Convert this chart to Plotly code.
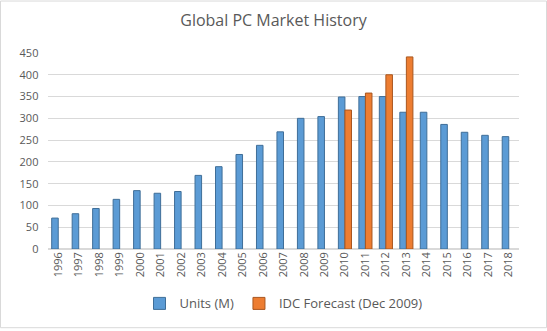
import plotly.graph_objects as go

years = [str(y) for y in range(1996, 2019)]
units = [71, 81, 93, 114, 134, 128, 132, 169, 189, 217, 238, 269, 300, 304,
         349, 350, 350, 314, 314, 286, 268, 261, 258]
forecast_years = ["2010", "2011", "2012", "2013"]
forecast = [319, 358, 400, 441]
forecast_full = [forecast[forecast_years.index(y)] if y in forecast_years else None for y in years]

W, H = 547, 331
L, R, T, B = 48, 28, 53, 80
pw = W - L - R
ph = H - T - B

fig = go.Figure()
fig.add_trace(go.Bar(x=years, y=units, name="Units (M)",
                     marker=dict(color="#5B9BD5", line=dict(color="#3F6E98", width=1))))
fig.add_trace(go.Bar(x=years, y=forecast_full, name="IDC Forecast (Dec 2009)",
                     marker=dict(color="#ED7D31", line=dict(color="#A9561F", width=1))))

fig.update_layout(
    width=W, height=H,
    margin=dict(l=L, r=R, t=T, b=B),
    paper_bgcolor="white", plot_bgcolor="white",
    barmode="group", bargap=0.36, bargroupgap=0,
    font=dict(family="Open Sans, DejaVu Sans, sans-serif", color="#595959"),
    title=dict(text="Global PC Market History", x=0.5, xanchor="center",
               y=1 - 20 / H, yanchor="middle",
               font=dict(size=16, color="#595959")),
    xaxis=dict(type="category", tickangle=-90, tickfont=dict(size=11, color="#595959"),
               showgrid=False, showline=False, ticks=""),
    yaxis=dict(range=[0, 450], dtick=50, tickfont=dict(size=11, color="#595959"),
               gridcolor="#D9D9D9", gridwidth=1, zeroline=True, zerolinecolor="#D9D9D9",
               showline=False, ticks="", ticksuffix="   "),
    legend=dict(orientation="h", x=0.5, xanchor="center", y=-(306 - (H - B)) / ph,
                yanchor="middle", font=dict(size=13, color="#595959"),
                itemwidth=30, traceorder="normal"),
    shapes=[dict(type="rect", xref="paper", yref="paper",
                 x0=-(L - 0.5) / pw, x1=1 + (R - 0.5) / pw,
                 y0=-(B - 0.5) / ph, y1=1 + (T - 0.5) / ph,
                 line=dict(color="#D9D9D9", width=1), layer="below")],
)

fig.write_html("out.html")
